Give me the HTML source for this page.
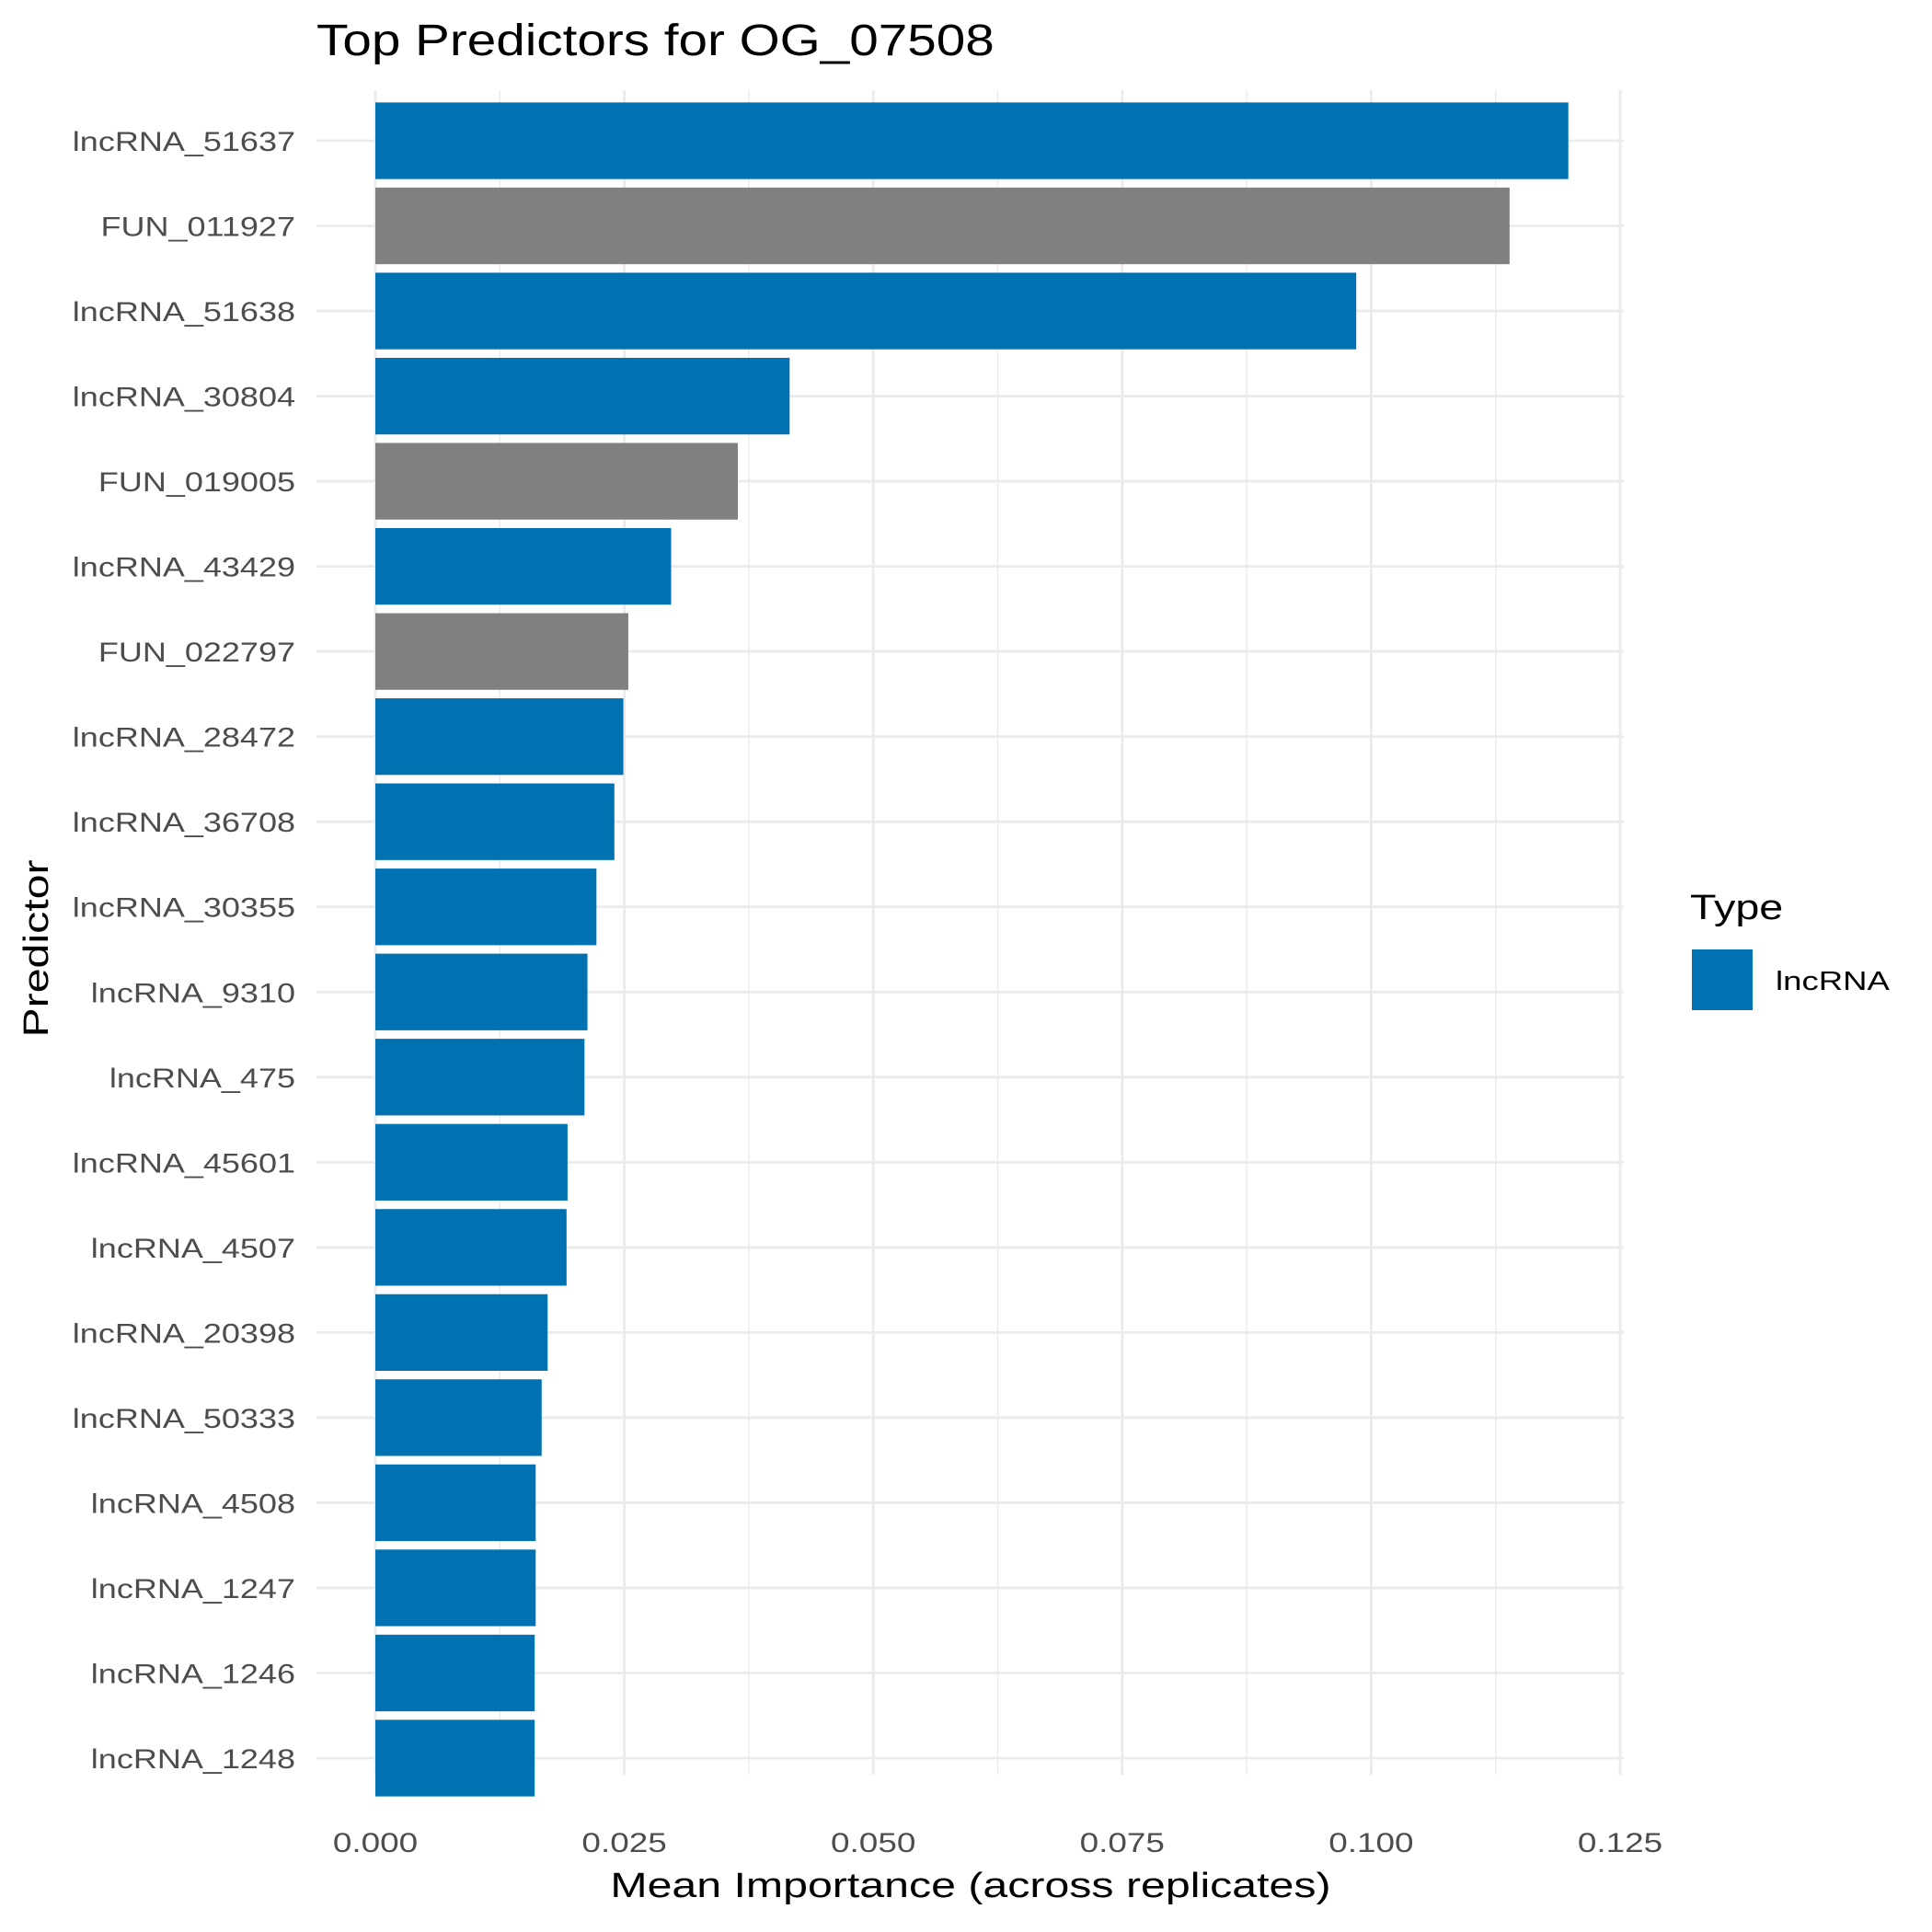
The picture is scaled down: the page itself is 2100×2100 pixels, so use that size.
<!DOCTYPE html>
<html><head><meta charset="utf-8"><style>
html,body{margin:0;padding:0;background:#fff;}
svg{display:block;font-family:"Liberation Sans",sans-serif;}
</style></head><body>
<svg id="chart" width="2100" height="2100" viewBox="0 0 2100 2100">
<text class="st" data-k="1.18" x="344" y="60" font-size="48" fill="#000">Top Predictors for OG_07508</text>
<g id="grid"></g>
<g id="bars"></g>
<g id="ylabels"></g>
<g id="xlabels"></g>
<text class="st" data-k="1.27" x="1055" y="2062" font-size="38" text-anchor="middle" fill="#000">Mean Importance (across replicates)</text>
<text class="st" data-k="1.27" transform="translate(52,1031) rotate(-90)" font-size="38" text-anchor="middle" fill="#000">Predictor</text>
<g>
<text class="st" data-k="1.23" x="1837" y="999" font-size="38" fill="#000">Type</text>
<rect x="1839" y="1032" width="66" height="66" fill="#0072B2"/>
<text class="st" data-k="1.26" x="1930" y="1076" font-size="29" fill="#000">lncRNA</text>
</g>
</svg>
<script>
const categories = ["lncRNA_51637","FUN_011927","lncRNA_51638","lncRNA_30804","FUN_019005","lncRNA_43429","FUN_022797","lncRNA_28472","lncRNA_36708","lncRNA_30355","lncRNA_9310","lncRNA_475","lncRNA_45601","lncRNA_4507","lncRNA_20398","lncRNA_50333","lncRNA_4508","lncRNA_1247","lncRNA_1246","lncRNA_1248"];
const values = [0.1198,0.1139,0.0985,0.0416,0.0364,0.0297,0.0254,0.0249,0.0240,0.0222,0.0213,0.0210,0.0193,0.0192,0.0173,0.0167,0.0161,0.0161,0.0160,0.0160];
const types = ["lncRNA","FUN","lncRNA","lncRNA","FUN","lncRNA","FUN","lncRNA","lncRNA","lncRNA","lncRNA","lncRNA","lncRNA","lncRNA","lncRNA","lncRNA","lncRNA","lncRNA","lncRNA","lncRNA"];
const xTicks = [0,0.025,0.05,0.075,0.1,0.125];
const xTickLabels = ["0.000","0.025","0.050","0.075","0.100","0.125"];

const NS="http://www.w3.org/2000/svg";
const x0=408, x1=1761, panL=344, panR=1765, panT=98, panB=1929;
function xs(v){return x0+(x1-x0)*v/0.125;}
const rowTop=153, rowBot=1911;
function ys(i){return rowTop+(rowBot-rowTop)*i/(categories.length-1);}
const step=(rowBot-rowTop)/(categories.length-1);
function mk(tag,attrs,parent){const e=document.createElementNS(NS,tag);for(const k in attrs)e.setAttribute(k,attrs[k]);parent.appendChild(e);return e;}
const grid=document.getElementById('grid');
for(let i=0;i<xTicks.length-1;i++){
  const m=(xTicks[i]+xTicks[i+1])/2;
  const l=mk('line',{x1:xs(m),x2:xs(m),y1:panT,y2:panB,stroke:'#ebebeb','stroke-width':1.4},grid);
  
  
}
xTicks.forEach(t=>{
  const l=mk('line',{x1:xs(t),x2:xs(t),y1:panT,y2:panB,stroke:'#ebebeb','stroke-width':2.8},grid);
  
  
});
categories.forEach((c,i)=>{
  const l=mk('line',{x1:panL,x2:panR,y1:ys(i),y2:ys(i),stroke:'#ebebeb','stroke-width':2.8},grid);
  
  
});
const bars=document.getElementById('bars');
const bh=step*0.9;
categories.forEach((c,i)=>{
  const r=mk('rect',{x:xs(0),y:ys(i)-bh/2,width:xs(values[i])-xs(0),height:bh,fill:types[i]==='FUN'?'#808080':'#0072B2'},bars);
  
  
});
const yl=document.getElementById('ylabels');
categories.forEach((c,i)=>{
  const t=mk('text',{x:321,y:ys(i)+11,'font-size':30,'text-anchor':'end',fill:'#4d4d4d'},yl);
  t.textContent=c;
  t.setAttribute('class','st');
  t.setAttribute('data-k','1.2');
  
  
});
const xl=document.getElementById('xlabels');
xTicks.forEach((v,i)=>{
  const t=mk('text',{x:xs(v),y:2013,'font-size':30,'text-anchor':'middle',fill:'#4d4d4d'},xl);
  t.textContent=xTickLabels[i];
  t.setAttribute('class','st');
  t.setAttribute('data-k','1.23');
  
  
});
document.querySelectorAll('text.st').forEach(t=>{
  const w=t.getComputedTextLength();
  t.setAttribute('textLength',(w*parseFloat(t.getAttribute('data-k'))).toFixed(1));
  t.setAttribute('lengthAdjust','spacingAndGlyphs');
});
</script>
</body></html>
